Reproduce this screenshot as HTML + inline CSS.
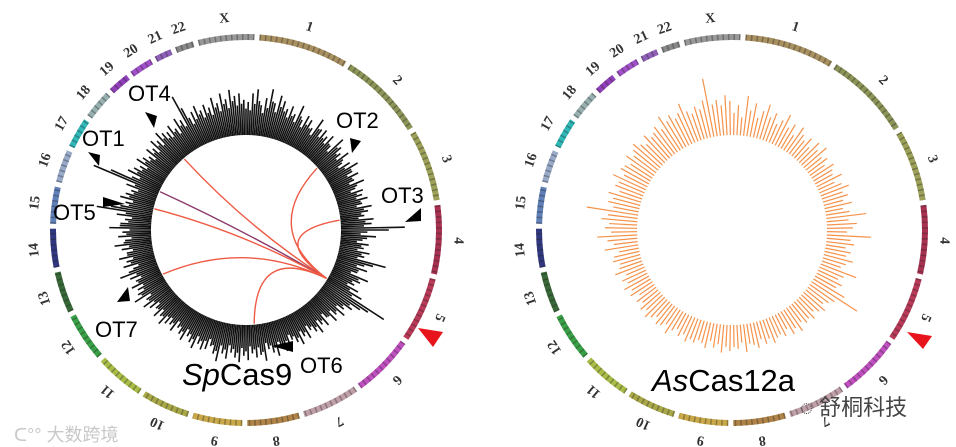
<!DOCTYPE html>
<html><head><meta charset="utf-8">
<style>
html,body{margin:0;padding:0;background:#fff;}
svg{display:block;font-family:"Liberation Sans","Noto Sans CJK SC",sans-serif;}
</style></head>
<body>
<svg id="chart" width="956" height="447" viewBox="0 0 956 447" xmlns="http://www.w3.org/2000/svg">
<g id="left"></g>
<g id="right"></g>
<text x="182" y="385" font-size="31" fill="#000"><tspan font-style="italic">Sp</tspan>Cas9</text>
<text x="652" y="391" font-size="31" fill="#000"><tspan font-style="italic">As</tspan>Cas12a</text>
<text x="14" y="441" font-size="18" fill="#c8c8c8">ᑕ°° 大数跨境</text>
<text x="800" y="415" font-size="22" fill="#444">◌ 舒桐科技</text>
</svg>
<script>
var chromNames = ["1","2","3","4","5","6","7","8","9","10","11","12","13","14","15","16","17","18","19","20","21","22","X"];
var chromLengths = [249,243,198,191,181,171,159,145,138,134,135,133,114,107,102,90,83,80,59,64,47,51,156];
var chromColors = ["#a89060","#8c9458","#9ca058","#a83050","#b83a58","#c050c0","#c0a0a8","#b08448","#c8a848","#a8a848","#a8bc48","#3aa048","#386838","#303880","#6080b8","#98aac8","#30b8b8","#98b0b0","#9040b8","#a050c8","#9060b8","#888888","#989898"];
var spValues = [30,38,42,28,35,44,32,40,36,30,34,28,38,26,32,30,24,36,28,30,26,30,22,34,28,24,30,20,26,32,24,28,22,30,20,26,24,28,22,30,26,22,30,28,58,24,32,20,26,22,28,24,45,26,30,22,34,28,24,30,36,63,40,34,28,32,26,30,22,28,24,30,26,22,28,24,30,26,22,28,30,26,32,28,24,34,28,30,26,32,28,34,30,26,32,28,36,30,24,28,30,26,32,28,24,30,26,22,28,24,26,30,24,28,22,26,30,24,34,28,26,30,24,28,36,22,30,26,32,24,28,34,24,30,26,38,28,24,32,51,30,26,32,28,24,30,64,28,34,30,26,32,28,24,30,26,32,28,34,30,28,32,26,34,30,52,28,32,36,30,34,30,38,32,40,34,42,36,38,32];
var asValues = [22,30,18,40,26,34,20,28,36,24,30,20,26,34,22,28,18,30,24,20,26,18,28,22,30,20,24,18,26,22,20,28,18,24,30,22,26,20,28,18,24,40,22,30,26,20,44,24,28,20,26,22,30,24,20,38,26,22,28,24,36,54,30,26,22,28,24,20,26,22,24,20,28,22,26,18,24,20,22,26,20,24,18,26,22,20,28,18,24,22,26,22,28,20,24,18,26,22,20,24,22,26,20,24,18,22,28,20,24,26,20,24,28,22,26,20,24,18,26,22,28,22,26,20,30,24,22,28,26,20,34,24,30,40,26,32,28,36,30,52,26,32,28,34,24,30,28,36,26,32,30,26,34,28,32,36,30,26,34,28,30,34,28,40,32,36,30,34,42,32,28,34,30,38,59,32,36,30,40,34];
var chordSource = 121;
var chordTargets = [319,294,283,242,175,49,84];
var otLabels = ["OT4","OT2","OT1","OT5","OT3","OT7","OT6"];

var NS="http://www.w3.org/2000/svg";
function mk(tag,attrs,parent){var e=document.createElementNS(NS,tag);for(var k in attrs)e.setAttribute(k,attrs[k]);parent.appendChild(e);return e;}
function pol(cx,cy,r,a){var t=(a-90)*Math.PI/180;return [cx+r*Math.cos(t),cy+r*Math.sin(t)];}
function arcPath(cx,cy,r,a0,a1){var p0=pol(cx,cy,r,a0),p1=pol(cx,cy,r,a1);return "M"+p0[0]+","+p0[1]+" A"+r+","+r+" 0 "+((a1-a0)>180?1:0)+" 1 "+p1[0]+","+p1[1];}
function angleScale(i,n){return i*360/n+1;}

function drawPlot(g,cx,cy,values,color,bw,scale,dbl){
  var total=chromLengths.reduce(function(a,b){return a+b;},0);
  var gap=1.5, avail=360-gap*chromNames.length, a=4;
  for(var i=0;i<chromNames.length;i++){
    var span=chromLengths[i]/total*avail;
    var seg=mk("path",{d:arcPath(cx,cy,193,a,a+span),stroke:chromColors[i],"stroke-width":6,fill:"none"},g);
    
    
    mk("path",{d:arcPath(cx,cy,193,a,a+span),stroke:"#222","stroke-opacity":0.35,"stroke-width":6,fill:"none","stroke-dasharray":"1.5 4"},g);
    var mid=a+span/2;
    var lp=pol(cx,cy,212,mid);
    var lbl=mk("text",{x:lp[0],y:lp[1],"font-size":14,"font-weight":"bold","font-family":"Liberation Serif, serif",fill:"#333","text-anchor":"middle","dominant-baseline":"middle",transform:"rotate("+mid+" "+lp[0]+" "+lp[1]+")"},g);
    lbl.textContent=chromNames[i];
    
    
    a+=span+gap;
  }
  for(var j=0;j<values.length;j++){
    var ang=angleScale(j*2,values.length*2);
    for(var k=0;k<(dbl?2:1);k++){
      var aa=ang+k*360/values.length/2;
      var v=values[j]*(k?0.75:1)*scale;
      var p0=pol(cx,cy,95,aa),p1=pol(cx,cy,95+v,aa);
      var b=mk("line",{x1:p0[0],y1:p0[1],x2:p1[0],y2:p1[1],stroke:color,"stroke-width":bw},g);
      
      
    }
  }
  mk("circle",{cx:cx,cy:cy,r:94,fill:"#fff"},g);
}
var L=document.getElementById("left"),R=document.getElementById("right");
drawPlot(L,246,230,spValues,"#111",1.6,1.1,true);
drawPlot(R,732,230,asValues,"#f5924a",1.2,1.0,false);

var src=pol(246,230,94,chordSource);
for(var c=0;c<chordTargets.length;c++){
  var t=pol(246,230,94,chordTargets[c]);
  var mx=(src[0]+t[0])/2, my=(src[1]+t[1])/2;
  var qx=246+(mx-246)*0.2, qy=230+(my-230)*0.2;
  var ch=mk("path",{d:"M"+src[0]+","+src[1]+" Q"+qx+","+qy+" "+t[0]+","+t[1],stroke:c==1?"#8a3a6a":"#ee5a44","stroke-width":1.4,fill:"none"},L);
  
  
}
var otPos=[[128,101],[336,128],[82,146],[53,220],[381,203],[95,337],[300,373]];
var arrows=["145,112 157,116 154,128","352,153 350,138 361,141","88,152 100,155 99,166","103,197 125,204 103,207","405,222 421,208 421,221","117,302 128,287 130,301","272,346 293,341 293,352"];
for(var o=0;o<otLabels.length;o++){
  var tx=mk("text",{x:otPos[o][0],y:otPos[o][1],"font-size":22,fill:"#000"},L);
  tx.textContent=otLabels[o];
  
  
  var ar=mk("polygon",{points:arrows[o],fill:"#000"},L);
  
  
}
var t1=mk("polygon",{points:"418,328 443,332 433,347",fill:"#e8141c"},L);


var t2=mk("polygon",{points:"907,332 932,336 923,349",fill:"#e8141c"},R);


</script>
</body></html>
